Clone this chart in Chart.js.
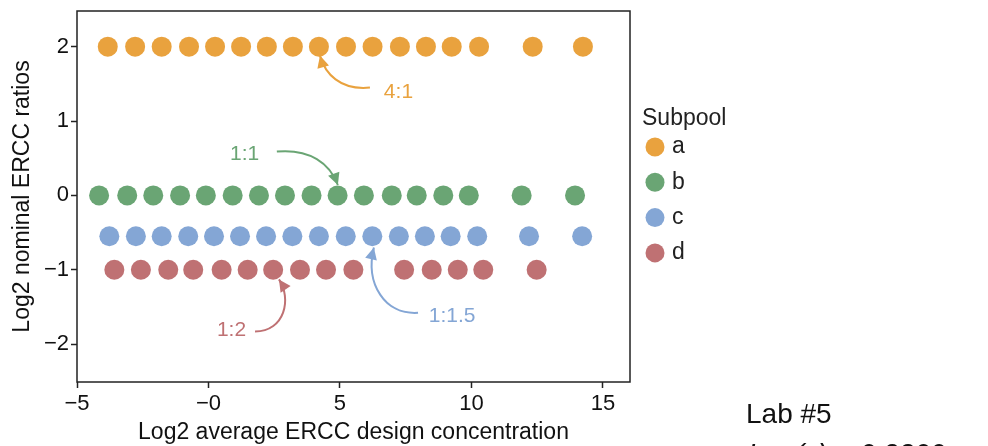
<!DOCTYPE html>
<html>
<head>
<meta charset="utf-8">
<title>Log2 nominal ERCC ratios</title>
<script src="https://cdn.jsdelivr.net/npm/chart.js@4.4.1/dist/chart.umd.min.js"></script>
<style>
  html, body { margin: 0; padding: 0; background: #fff; }
  #wrap { width: 988px; height: 446px; }
</style>
</head>
<body>
<div id="wrap"><canvas id="chart" width="988" height="446"></canvas></div>
<script>
// ==========================================
// Data
// ==========================================

const SUBPOOLS = ['a', 'b', 'c', 'd'];
const SUBPOOL_COLORS = ['#e9a23e', '#6aa574', '#84a6d5', '#bf7173'];
const SUBPOOL_Y = [2, 0, -0.55, -1];

const A_X = [-3.83, -2.79, -1.78, -0.74, 0.25, 1.24, 2.22, 3.21, 4.20, 5.23, 6.24, 7.28, 8.27, 9.25, 10.29, 12.33, 14.24];
const B_X = [-4.16, -3.09, -2.10, -1.08, -0.10, 0.92, 1.92, 2.91, 3.92, 4.91, 5.91, 6.97, 7.92, 8.93, 9.90, 11.91, 13.94];
const C_X = [-3.77, -2.76, -1.78, -0.77, 0.21, 1.20, 2.19, 3.19, 4.20, 5.22, 6.23, 7.24, 8.23, 9.21, 10.22, 12.19, 14.21];
const D_X = [-3.58, -2.57, -1.53, -0.58, 0.50, 1.49, 2.46, 3.48, 4.47, 5.51, 7.44, 8.49, 9.48, 10.45, 12.48];
const SUBPOOL_X = [A_X, B_X, C_X, D_X];

const X_TICKS = [-5, 0, 5, 10, 15];
const X_TICK_LABELS = ['\u22125', '\u22120', '5', '10', '15'];
const Y_TICKS = [-2, -1, 0, 1, 2];
const Y_TICK_LABELS = ['\u22122', '\u22121', '0', '1', '2'];

// Ratio call-outs: label, label anchor and curve (start, ctrl1, ctrl2, tip), all in data units
const CALLOUT_TEXT = ['4:1', '1:1', '1:2', '1:1.5'];
const CALLOUT_SUBPOOL = [0, 1, 3, 2];
const CALLOUT_AT = [[6.67, 1.39], [0.82, 0.56], [0.32, -1.82], [8.38, -1.62]];
const CALLOUT_PATH = [
    [[6.14, 1.45], [5.00, 1.41], [4.43, 1.64], [4.24, 1.88]],
    [[2.60, 0.59], [3.86, 0.63], [4.62, 0.43], [4.92, 0.14]],
    [[1.77, -1.83], [2.91, -1.83], [3.17, -1.39], [2.68, -1.13]],
    [[7.97, -1.58], [6.71, -1.61], [5.95, -1.19], [6.29, -0.70]]
];

const FONT = '"Liberation Sans", Arial, Helvetica, sans-serif';

// ==========================================
// Overlay: frame, call-outs, legend, side note
// ==========================================

const overlay = {
    id: 'overlay',
    afterDraw(chart) {
        const ctx = chart.ctx;
        const xs = chart.scales.x;
        const ys = chart.scales.y;
        const area = chart.chartArea;
        const px = p => [xs.getPixelForValue(p[0]), ys.getPixelForValue(p[1])];

        ctx.save();

        // plot frame
        ctx.strokeStyle = '#222';
        ctx.lineWidth = 1.5;
        ctx.strokeRect(area.left, area.top, area.right - area.left, area.bottom - area.top);

        // call-outs
        CALLOUT_TEXT.forEach((text, i) => {
            const color = SUBPOOL_COLORS[CALLOUT_SUBPOOL[i]];
            const p = CALLOUT_PATH[i].map(px);
            ctx.strokeStyle = color;
            ctx.fillStyle = color;
            ctx.lineWidth = 2;
            ctx.beginPath();
            ctx.moveTo(p[0][0], p[0][1]);
            ctx.bezierCurveTo(p[1][0], p[1][1], p[2][0], p[2][1], p[3][0], p[3][1]);
            ctx.stroke();

            const ang = Math.atan2(p[3][1] - p[2][1], p[3][0] - p[2][0]);
            const len = 12, half = 6;
            const bx = p[3][0] - len * Math.cos(ang);
            const by = p[3][1] - len * Math.sin(ang);
            ctx.beginPath();
            ctx.moveTo(p[3][0], p[3][1]);
            ctx.lineTo(bx + half * Math.sin(ang), by - half * Math.cos(ang));
            ctx.lineTo(bx - half * Math.sin(ang), by + half * Math.cos(ang));
            ctx.closePath();
            ctx.fill();

            const at = px(CALLOUT_AT[i]);
            ctx.font = '21px ' + FONT;
            ctx.textAlign = 'left';
            ctx.textBaseline = 'middle';
            ctx.fillText(text, at[0], at[1]);
        });

        // legend
        ctx.fillStyle = '#222';
        ctx.font = '23px ' + FONT;
        ctx.textAlign = 'left';
        ctx.textBaseline = 'middle';
        ctx.fillText('Subpool', 642, 119);
        chart.data.datasets.forEach((ds, i) => {
            const cy = 147 + i * 35.3;
            ctx.fillStyle = ds.backgroundColor;
            ctx.beginPath();
            ctx.arc(655, cy, 9.5, 0, Math.PI * 2);
            ctx.fill();
            ctx.fillStyle = '#222';
            ctx.fillText(ds.label, 672, cy);
        });

        // side note
        ctx.fillStyle = '#111';
        ctx.textBaseline = 'alphabetic';
        ctx.font = '28px ' + FONT;
        ctx.fillText('Lab #5', 746, 423);
        ctx.font = 'italic 28px ' + FONT;
        ctx.fillText('Log(x) = 0.2300', 748, 463);

        ctx.restore();
    }
};

// ==========================================
// Chart
// ==========================================

const datasets = SUBPOOLS.map((name, i) => ({
    label: name,
    data: SUBPOOL_X[i].map(x => ({ x: x, y: SUBPOOL_Y[i] })),
    backgroundColor: SUBPOOL_COLORS[i],
    pointBackgroundColor: SUBPOOL_COLORS[i],
    pointBorderWidth: 0,
    pointRadius: 10,
    pointHoverRadius: 10
}));

const tickGrid = {
    display: true,
    drawOnChartArea: false,
    drawTicks: true,
    tickLength: 6,
    tickColor: '#222',
    tickWidth: 1.5
};

new Chart(document.getElementById('chart'), {
    type: 'scatter',
    data: { datasets: datasets },
    options: {
        responsive: false,
        animation: false,
        devicePixelRatio: 1,
        layout: { padding: { left: 0, top: 11, right: 358, bottom: 0 } },
        plugins: {
            legend: { display: false },
            tooltip: { enabled: false }
        },
        scales: {
            x: {
                type: 'linear',
                min: -5,
                max: 16.03,
                afterFit: s => { s.height = 64; s.paddingLeft = 0; s.paddingRight = 0; },
                afterBuildTicks: s => { s.ticks = X_TICKS.map(v => ({ value: v })); },
                grid: tickGrid,
                border: { display: false },
                ticks: {
                    color: '#111',
                    padding: 3,
                    maxRotation: 0,
                    font: { family: FONT, size: 22 },
                    callback: v => X_TICK_LABELS[X_TICKS.indexOf(v)]
                },
                title: {
                    display: true,
                    text: 'Log2 average ERCC design concentration',
                    color: '#111',
                    padding: { top: 0, bottom: 0 },
                    font: { family: FONT, size: 23 }
                }
            },
            y: {
                type: 'linear',
                min: -2.51,
                max: 2.48,
                afterFit: s => { s.width = 77; s.paddingTop = 0; s.paddingBottom = 0; },
                afterBuildTicks: s => { s.ticks = Y_TICKS.map(v => ({ value: v })); },
                grid: tickGrid,
                border: { display: false },
                ticks: {
                    color: '#111',
                    padding: 2,
                    font: { family: FONT, size: 22 },
                    callback: v => Y_TICK_LABELS[Y_TICKS.indexOf(v)]
                },
                title: {
                    display: true,
                    text: 'Log2 nominal ERCC ratios',
                    color: '#111',
                    padding: { top: 9, bottom: 0 },
                    font: { family: FONT, size: 23 }
                }
            }
        }
    },
    plugins: [overlay]
});
</script>
</body>
</html>
